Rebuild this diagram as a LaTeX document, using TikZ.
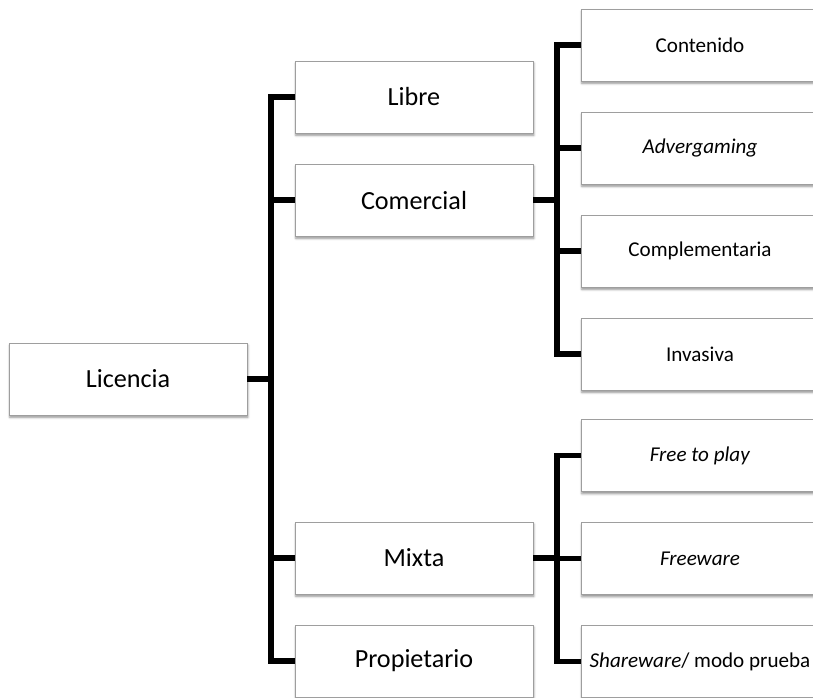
\documentclass[tikz,border=0pt]{standalone}
\usepackage{fontspec}
\setmainfont{Carlito}
\usepackage{tikz}
\usetikzlibrary{positioning,shadows.blur}
\definecolor{grisborde}{rgb}{0.62, 0.62, 0.62}
\tikzset{
  caja/.style={
    draw=grisborde,
    fill=white,
    line width=.6pt,
    align=center,
    minimum width=5.95cm,
    minimum height=1.8cm,
    inner sep=0pt,
    outer sep=0pt,
    blur shadow={shadow xshift=.6pt, shadow yshift=-1.6pt, shadow blur radius=1.6pt, shadow opacity=45},
    font=\fontsize{18.6}{22}\selectfont
  },
  hoja/.style={
    caja,
    font=\fontsize{15}{18}\selectfont
  },
  rama/.style={
    line width=3.7pt,
    black
  }
}

\begin{document}
\begin{tikzpicture}[x=.025cm, y=.025cm, node distance=.775cm]
\useasboundingbox (0,0) rectangle (813,-697);

% raiz y primer nivel
\node[caja] (licencia) at (128,-379) {Licencia};
\node[caja] (libre) at (414,-97) {Libre};
\node[caja, below=of libre] (comercial) {Comercial};
\node[caja] (mixta) at (414,-558) {Mixta};
\node[caja, below=of mixta] (propietario) {Propietario};

% tipos de licencia comercial
\node[hoja] (contenido) at (700,-45) {Contenido};
\node[hoja, below=of contenido] (advergaming) {\textit{Advergaming}};
\node[hoja, below=of advergaming] (complementaria) {Complementaria};
\node[hoja, below=of complementaria] (invasiva) {Invasiva};

% tipos de licencia mixta
\node[hoja] (freetoplay) at (700,-455.5) {\textit{Free to play}};
\node[hoja, below=of freetoplay] (freeware) {\textit{Freeware}};
\node[hoja, below=of freeware] (shareware) {\textit{Shareware}/ modo prueba};

% ramas
\foreach \n in {libre,comercial,mixta,propietario}
  \draw[rama] (licencia.east) -- ++(24,0) |- (\n.west);
\foreach \n in {contenido,advergaming,complementaria,invasiva}
  \draw[rama] (comercial.east) -- ++(24,0) |- (\n.west);
\foreach \n in {freetoplay,freeware,shareware}
  \draw[rama] (mixta.east) -- ++(24,0) |- (\n.west);
\end{tikzpicture}
\end{document}
